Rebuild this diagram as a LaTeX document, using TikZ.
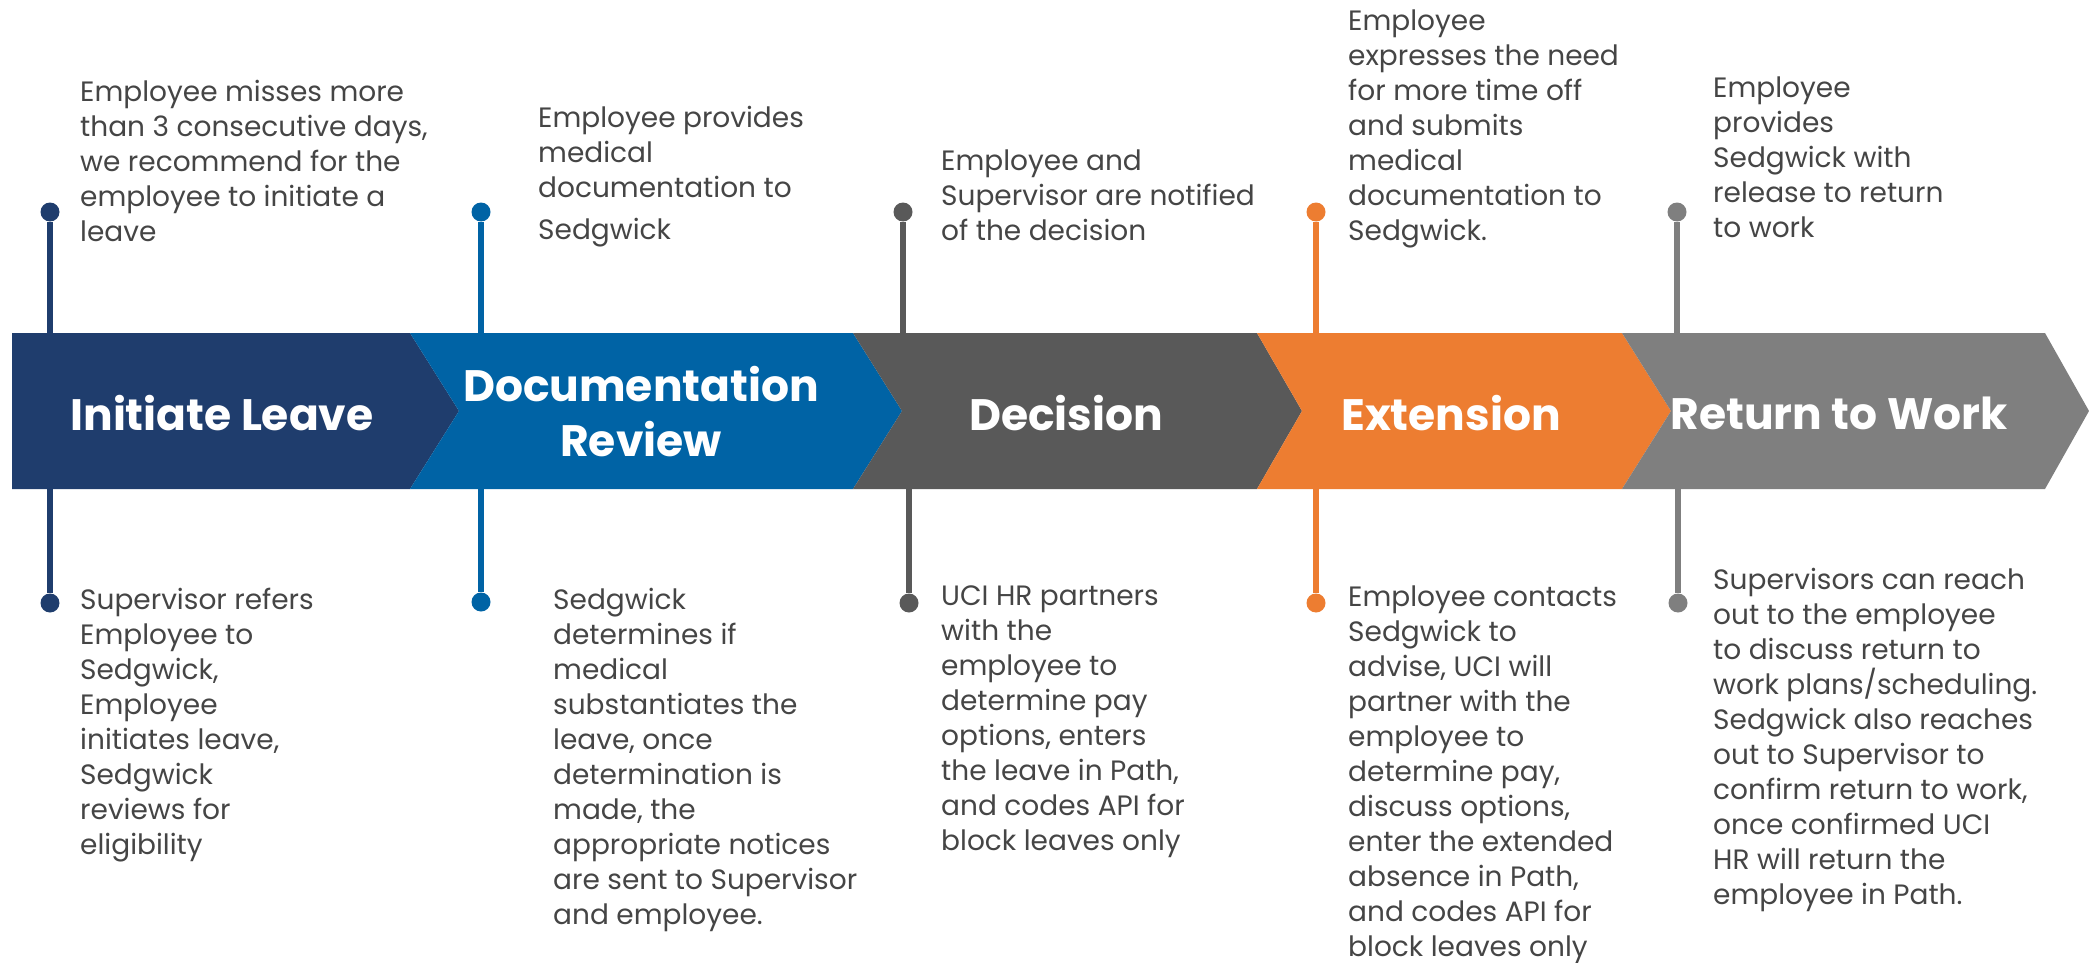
\documentclass[tikz,border=0pt]{standalone}
\usepackage{fontspec}
\setmainfont{Poppins}
\definecolor{navy}{HTML}{1F3D6D}
\definecolor{docblue}{HTML}{0063A5}
\definecolor{darkgrey}{HTML}{595959}
\definecolor{extorange}{HTML}{ED7D31}
\definecolor{midgrey}{HTML}{7F7F7F}
\definecolor{bodytext}{HTML}{454545}
\tikzset{bullet/.style={circle,fill,inner sep=0pt,minimum size=19pt},
  stem/.style={line width=5.5pt},
  note/.style={align=left,inner sep=0pt,anchor=north west,text=bodytext,
    font=\fontsize{28}{35}\selectfont},
  title/.style={align=center,inner sep=0pt,text=white,
    font=\fontsize{44}{55}\selectfont\bfseries}}

\begin{document}
\begin{tikzpicture}[x=1pt,y=-1pt]
    \useasboundingbox (0,0) rectangle (2089,963);
    \coordinate (bandtop) at (0,333);
    \coordinate (bandbot) at (0,489);

    % bullets above and below the band
    \node[bullet, navy] (t1) at (50,212) {};
    \node[bullet, docblue] (t2) at (481,212) {};
    \node[bullet, darkgrey] (t3) at (903,212) {};
    \node[bullet, extorange] (t4) at (1316,212) {};
    \node[bullet, midgrey] (t5) at (1677,212) {};

    \node[bullet, navy] (b1) at (50,603) {};
    \node[bullet, docblue] (b2) at (481,602) {};
    \node[bullet, darkgrey] (b3) at (909,603) {};
    \node[bullet, extorange] (b4) at (1316,603) {};
    \node[bullet, midgrey] (b5) at (1678,603) {};

    \draw[stem, navy] (t1) -- (t1 |- bandtop);
    \draw[stem, docblue] (t2) -- (t2 |- bandtop);
    \draw[stem, darkgrey] (t3) -- (t3 |- bandtop);
    \draw[stem, extorange] (t4) -- (t4 |- bandtop);
    \draw[stem, midgrey] (t5) -- (t5 |- bandtop);

    \draw[stem, navy] (b1) -- (b1 |- bandbot);
    \draw[stem, docblue] (b2) -- (b2 |- bandbot);
    \draw[stem, darkgrey] (b3) -- (b3 |- bandbot);
    \draw[stem, extorange] (b4) -- (b4 |- bandbot);
    \draw[stem, midgrey] (b5) -- (b5 |- bandbot);

    % chevron band
    \fill[navy] (12,333) -- (410,333) -- (459,411) -- (410,489) -- (12,489) -- cycle;
    \fill[docblue] (410,333) -- (853,333) -- (902,411) -- (853,489) -- (410,489) -- (459,411) -- cycle;
    \fill[darkgrey] (853,333) -- (1257,333) -- (1302,411) -- (1257,489) -- (853,489) -- (902,411) -- cycle;
    \fill[extorange] (1257,333) -- (1622,333) -- (1671,411) -- (1622,489) -- (1257,489) -- (1302,411) -- cycle;
    \fill[midgrey] (1622,333) -- (2045,333) -- (2089,411) -- (2045,489) -- (1622,489) -- (1671,411) -- cycle;

    \node[title] (initiate) at (222,413) {Initiate Leave};
    \node[title] (review) at (641,412) {Documentation\\Review};
    \node[title] (decision) at (1066,413) {Decision};
    \node[title] (extension) at (1451,413) {Extension};
    \node[title] (return) at (1839,413) {Return to Work};

    % notes above
    \node[note] (n-t1) at (80,80) {Employee misses more\\than 3 consecutive days,\\we recommend for the\\employee to initiate a\\leave};
    \node[note] (n-t2) at (538,106) {Employee provides\\medical\\documentation to\\[7pt]Sedgwick};
    \node[note] (n-t3) at (941,150) {Employee and\\Supervisor are notified\\of the decision};
    \node[note] (n-t4) at (1348,10) {Employee\\expresses the need\\for more time off\\and submits\\medical\\documentation to\\Sedgwick.};
    \node[note] (n-t5) at (1713,77) {Employee\\provides\\Sedgwick with\\release to return\\to work};

    % notes below
    \node[note] (n-b1) at (80,588) {Supervisor refers\\Employee to\\Sedgwick,\\Employee\\initiates leave,\\Sedgwick\\reviews for\\eligibility};
    \node[note] (n-b2) at (553,588) {Sedgwick\\determines if\\medical\\substantiates the\\leave, once\\determination is\\made, the\\appropriate notices\\are sent to Supervisor\\and employee.};
    \node[note] (n-b3) at (941,586) {UCI HR partners\\with the\\employee to\\determine pay\\options, enters\\the leave in Path,\\and codes API for\\block leaves only};
    \node[note] (n-b4) at (1348,586) {Employee contacts\\Sedgwick to\\advise, UCI will\\partner with the\\employee to\\determine pay,\\discuss options,\\enter the extended\\absence in Path,\\and codes API for\\block leaves only};
    \node[note] (n-b5) at (1713,568) {Supervisors can reach\\out to the employee\\to discuss return to\\work plans/scheduling.\\Sedgwick also reaches\\out to Supervisor to\\confirm return to work,\\once confirmed UCI\\HR will return the\\employee in Path.};
\end{tikzpicture}
\end{document}
